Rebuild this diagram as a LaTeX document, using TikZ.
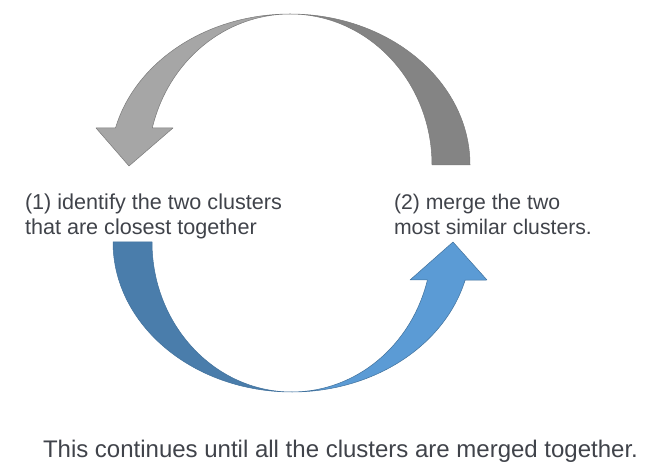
\documentclass[tikz,border=0pt]{standalone}
\usepackage{fontspec}
\setmainfont{Liberation Sans}
\definecolor{txt}{HTML}{40434A}
\definecolor{lgray}{HTML}{A6A6A6}
\definecolor{dgray}{HTML}{848484}
\definecolor{gline}{HTML}{7A7A7A}
\definecolor{dblue}{HTML}{4A7DAB}
\definecolor{lblue}{HTML}{5B9BD5}
\definecolor{bline}{HTML}{41719C}
\begin{document}
\begin{tikzpicture}[x=1pt,y=1pt,
  lbl/.style={inner sep=0pt,outer sep=0pt,text=txt,align=left,anchor=base west},
  graypart/.style={draw=gline,line width=0.5pt,line join=round},
  bluepart/.style={draw=bline,line width=0.5pt,line join=round}]
\useasboundingbox (0,0) rectangle (663,471);
% ---- top (grey) curved arrow, centre (290,306)
\fill[dgray,graypart] (470,306) arc[start angle=0,end angle=90,x radius=180,y radius=151]
  arc[start angle=90,end angle=0,x radius=142,y radius=151] -- cycle;
\fill[lgray,graypart] (290,457) arc[start angle=90,end angle=165.8,x radius=180,y radius=151]
  -- (96,343) -- (129,305) -- (173,343) -- (152.3,343)
  arc[start angle=165.8,end angle=90,x radius=142,y radius=151] -- cycle;
% ---- bottom (blue) curved arrow, centre (292,229)
\fill[dblue,bluepart] (113,229) arc[start angle=180,end angle=270,x radius=179,y radius=150]
  arc[start angle=270,end angle=180,x radius=140,y radius=150] -- cycle;
\fill[lblue,bluepart] (292,79) arc[start angle=270,end angle=345.3,x radius=179,y radius=150]
  -- (487,191) -- (453,229) -- (410,191) -- (427.4,191)
  arc[start angle=345.3,end angle=270,x radius=140,y radius=150] -- cycle;
% ---- texts (base anchor = baseline of last line)
\node[lbl,font=\fontsize{21.6}{25}\selectfont] (t1) at (25,236)
  {(1) identify the two clusters\\that are closest together};
\node[lbl,font=\fontsize{21.2}{25}\selectfont] (t2) at (394,236)
  {(2) merge the two\\most similar clusters.};
\node[lbl,font=\fontsize{24}{28}\selectfont] (t3) at (43,14)
  {This continues until all the clusters are merged together.};
\end{tikzpicture}
\end{document}
